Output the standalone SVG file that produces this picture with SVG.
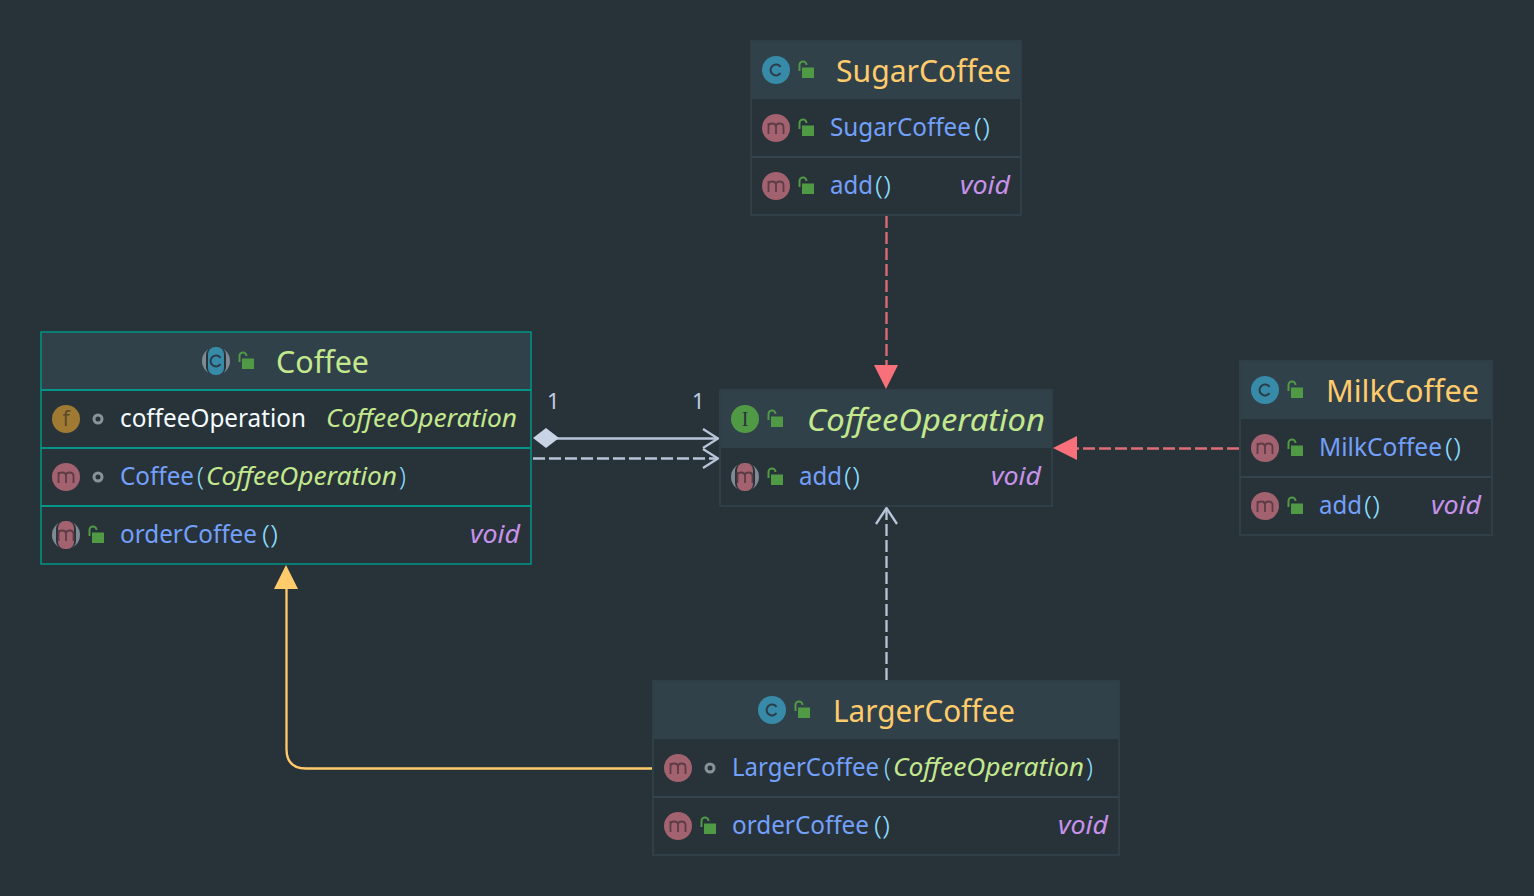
<svg xmlns="http://www.w3.org/2000/svg" width="1534" height="896" viewBox="0 0 1534 896">
<style>
text{font-family:"Noto Sans","Open Sans","Liberation Sans",sans-serif;font-size:25px}
.title{font-size:31px}
.body{fill:#283239;stroke:#2f3e47;stroke-width:2}
.sel{stroke:#009688;stroke-width:1.5}
.head{fill:#31414a}
.sep{stroke:#33444e;stroke-width:2;fill:none}
.sepsel{stroke:#009688;stroke-width:2;fill:none}
.n{fill:#73a0fa}.p{fill:#89ddff;font-weight:300}.y{fill:#ffcb6b}.g{fill:#c3e88d}.v{fill:#c792ea}.w{fill:#f4fcff}
.i{font-style:italic}
.lbl{fill:#c0cde0;font-size:22px}
.glyph{font-size:21px;text-anchor:middle}
.conn{fill:none;stroke-width:2.3}
.dash{stroke-dasharray:12 4}
.red{stroke:#e06c75}
.gray{stroke:#b8c4d8}
.open{fill:none;stroke:#b8c4d8;stroke-width:2.3}
</style>
<defs>
<g id="lock"><path d="M-6.500 1V-5a3.500 3.500 0 0 1 7 0" fill="none" stroke="#519a45" stroke-width="2"/><rect x="-4" y="-2.500" width="12" height="10.500" fill="#519a45"/></g>
<g id="dot"><circle r="4" fill="none" stroke="#87929b" stroke-width="3"/></g>
<path id="cglyph" d="M4.500 -3.200a5.500 5.500 0 1 0 0 6.400" fill="none" stroke="#2b3d49" stroke-width="2"/>
<path id="mglyph" d="M-7.500 6V-5M-7.500 -1q0-3.500 3.700-3.500t3.800 3.500V6M0 -1q0-3.500 3.700-3.500t3.800 3.500V6" fill="none" stroke="#5d3c46" stroke-width="1.800"/>
<g id="ic"><circle r="14" fill="#378aa8"/><use href="#cglyph"/></g>
<g id="ic2"><circle r="14" fill="#7f8a94"/><rect x="-10" y="-14" width="20" height="28" rx="8" fill="#283239"/><rect x="-8" y="-14" width="16" height="28" rx="7" fill="#378aa8"/><use href="#cglyph"/></g>
<g id="im"><circle r="14" fill="#a3626f"/><use href="#mglyph"/></g>
<g id="im2"><circle r="14" fill="#7f8a94"/><rect x="-10" y="-14" width="20" height="28" rx="8" fill="#283239"/><rect x="-8" y="-14" width="16" height="28" rx="7" fill="#a3626f"/><use href="#mglyph"/></g>
</defs>
<rect width="1534" height="896" fill="#283239"/>

<g id="connectors">
<path class="conn dash red" d="M886.500 216V366"/>
<polygon points="874,365 898,365 886,389" fill="#f7707a"/>
<path class="conn dash red" d="M1239 448.500H1076"/>
<polygon points="1077,436 1077,460 1053,448" fill="#f7707a"/>
<path class="conn dash gray" d="M886.500 680V510"/>
<path class="open" d="M876 524L886.500 508L897 524"/>
<path class="conn" d="M652 768.500H306Q286.500 768.500 286.500 749V588" stroke="#ffcb6b"/>
<polygon points="274,589 298,589 286,565" fill="#ffcb6b"/>
<path class="conn gray" d="M556 438.500H718"/>
<polygon points="533,438 546,428 559,438 546,448" fill="#c8d3e6"/>
<path class="open" d="M703 429L718 438.500L703 448"/>
<path class="conn dash gray" d="M533 458.500H718"/>
<path class="open" d="M703 449L718 458.500L703 468"/>
<text class="lbl" x="547" y="409">1</text>
<text class="lbl" x="692" y="409">1</text>
</g>

<g id="node-SugarCoffee">
<rect class="body" x="751" y="41" width="270" height="174"/>
<rect class="head" x="752" y="42" width="268" height="57"/>
<path class="sep" d="M751 157H1021"/>
<use href="#ic" x="776" y="70"/><use href="#lock" x="806" y="70"/>
<text class="title y" x="836" y="82" textLength="175" lengthAdjust="spacingAndGlyphs">SugarCoffee</text>
<use href="#im" x="776" y="128"/><use href="#lock" x="806" y="128"/>
<text class="n" x="830" y="136" textLength="141" lengthAdjust="spacingAndGlyphs">SugarCoffee</text><text class="p" x="974" y="136" textLength="16" lengthAdjust="spacingAndGlyphs">()</text>
<use href="#im" x="776" y="186"/><use href="#lock" x="806" y="186"/>
<text class="n" x="830" y="194" textLength="43" lengthAdjust="spacingAndGlyphs">add</text><text class="p" x="875" y="194" textLength="16" lengthAdjust="spacingAndGlyphs">()</text>
<text class="v i" x="960" y="194" textLength="50" lengthAdjust="spacingAndGlyphs">void</text>
</g>

<g id="node-Coffee">
<rect class="body sel" x="41" y="332" width="490" height="232"/>
<rect class="head" x="42" y="333" width="488" height="57"/>
<path class="sepsel" d="M41 390H531M41 448H531M41 506H531"/>
<use href="#ic2" x="216" y="361"/><use href="#lock" x="246" y="361"/>
<text class="title g" x="276" y="373" textLength="93" lengthAdjust="spacingAndGlyphs">Coffee</text>
<circle cx="66" cy="419" r="14" fill="#a07a32"/>
<text class="glyph" x="66" y="426" fill="#5a4a2a">f</text>
<use href="#dot" x="98" y="419"/>
<text class="w" x="120" y="427" textLength="186" lengthAdjust="spacingAndGlyphs">coffeeOperation</text>
<text class="g i" x="326" y="427" textLength="191" lengthAdjust="spacingAndGlyphs">CoffeeOperation</text>
<use href="#im" x="66" y="477"/><use href="#dot" x="98" y="477"/>
<text class="n" x="120" y="485" textLength="74" lengthAdjust="spacingAndGlyphs">Coffee</text><text class="p" x="197" y="485">(</text>
<text class="g i" x="206" y="485" textLength="191" lengthAdjust="spacingAndGlyphs">CoffeeOperation</text><text class="p" x="399" y="485">)</text>
<use href="#im2" x="66" y="535"/><use href="#lock" x="96" y="535"/>
<text class="n" x="120" y="543" textLength="137" lengthAdjust="spacingAndGlyphs">orderCoffee</text><text class="p" x="262" y="543" textLength="16" lengthAdjust="spacingAndGlyphs">()</text>
<text class="v i" x="470" y="543" textLength="50" lengthAdjust="spacingAndGlyphs">void</text>
</g>

<g id="node-CoffeeOperation">
<rect class="body" x="720" y="390" width="332" height="116"/>
<rect class="head" x="721" y="391" width="330" height="57"/>
<circle cx="745" cy="419" r="14" fill="#519a45"/>
<text class="glyph" x="745" y="426" fill="#283239" style="font-family:'Liberation Serif',serif;font-size:20px">I</text>
<use href="#lock" x="775" y="419"/>
<text class="title g i" x="807" y="431" textLength="238" lengthAdjust="spacingAndGlyphs">CoffeeOperation</text>
<use href="#im2" x="745" y="477"/><use href="#lock" x="775" y="477"/>
<text class="n" x="799" y="485" textLength="43" lengthAdjust="spacingAndGlyphs">add</text><text class="p" x="844" y="485" textLength="16" lengthAdjust="spacingAndGlyphs">()</text>
<text class="v i" x="991" y="485" textLength="50" lengthAdjust="spacingAndGlyphs">void</text>
</g>

<g id="node-MilkCoffee">
<rect class="body" x="1240" y="361" width="252" height="174"/>
<rect class="head" x="1241" y="362" width="250" height="57"/>
<path class="sep" d="M1240 477H1492"/>
<use href="#ic" x="1265" y="390"/><use href="#lock" x="1295" y="390"/>
<text class="title y" x="1326" y="402" textLength="153" lengthAdjust="spacingAndGlyphs">MilkCoffee</text>
<use href="#im" x="1265" y="448"/><use href="#lock" x="1295" y="448"/>
<text class="n" x="1319" y="456" textLength="123" lengthAdjust="spacingAndGlyphs">MilkCoffee</text><text class="p" x="1445" y="456" textLength="16" lengthAdjust="spacingAndGlyphs">()</text>
<use href="#im" x="1265" y="506"/><use href="#lock" x="1295" y="506"/>
<text class="n" x="1319" y="514" textLength="43" lengthAdjust="spacingAndGlyphs">add</text><text class="p" x="1364" y="514" textLength="16" lengthAdjust="spacingAndGlyphs">()</text>
<text class="v i" x="1431" y="514" textLength="50" lengthAdjust="spacingAndGlyphs">void</text>
</g>

<g id="node-LargerCoffee">
<rect class="body" x="653" y="681" width="466" height="174"/>
<rect class="head" x="654" y="682" width="464" height="57"/>
<path class="sep" d="M653 797H1119"/>
<use href="#ic" x="772" y="710"/><use href="#lock" x="802" y="710"/>
<text class="title y" x="833" y="722" textLength="182" lengthAdjust="spacingAndGlyphs">LargerCoffee</text>
<use href="#im" x="678" y="768"/><use href="#dot" x="710" y="768"/>
<text class="n" x="732" y="776" textLength="147" lengthAdjust="spacingAndGlyphs">LargerCoffee</text><text class="p" x="884" y="776">(</text>
<text class="g i" x="893" y="776" textLength="191" lengthAdjust="spacingAndGlyphs">CoffeeOperation</text><text class="p" x="1086" y="776">)</text>
<use href="#im" x="678" y="826"/><use href="#lock" x="708" y="826"/>
<text class="n" x="732" y="834" textLength="137" lengthAdjust="spacingAndGlyphs">orderCoffee</text><text class="p" x="874" y="834" textLength="16" lengthAdjust="spacingAndGlyphs">()</text>
<text class="v i" x="1058" y="834" textLength="50" lengthAdjust="spacingAndGlyphs">void</text>
</g>
</svg>
